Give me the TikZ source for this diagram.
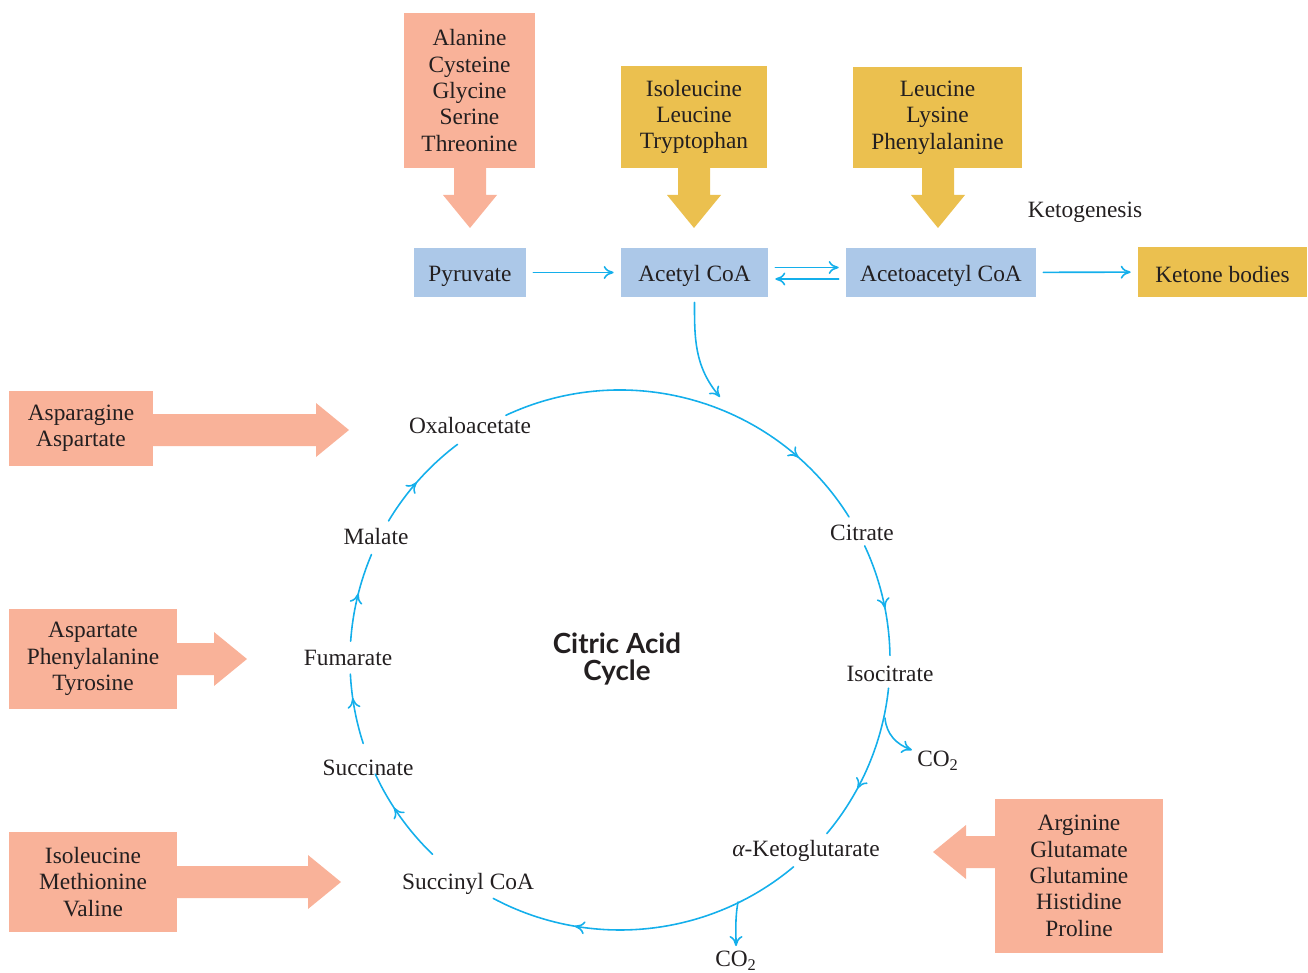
\documentclass[tikz,border=0pt]{standalone}
\usepackage{fontspec}
\setmainfont{Liberation Serif}
\newfontfamily\titlefont{Lato}
\usetikzlibrary{arrows.meta,decorations.markings}
\definecolor{cyc}{RGB}{20,175,235}
\definecolor{bluebox}{RGB}{172,200,232}
\definecolor{salmon}{RGB}{249,178,153}
\definecolor{gold}{RGB}{235,192,79}
\definecolor{ink}{RGB}{35,31,32}
\begin{document}
\begin{tikzpicture}[x=0.02cm,y=0.02cm,>={To[length=2mm,width=2.6mm]},
	font=\fontsize{13.3}{15}\selectfont, text=ink, line join=round, line cap=round,
	box/.style={fill=#1,align=center,inner sep=0pt,execute at begin node={\rule{0pt}{0.95em}}},
	lab/.style={inner sep=0pt},
	flow/.style={draw=cyc,color=cyc,line width=0.9pt,->,shorten <=0.14cm,shorten >=0.14cm},
	cycline/.style={draw=cyc,color=cyc,line width=0.9pt},
	midtip/.style={postaction={decorate},decoration={markings,mark=at position #1 with {\arrow{>}}}}]
	\useasboundingbox (0,0) rectangle (1308,-973);
	% fat arrows: start x/y, direction, length, colour
	\foreach \x/\y/\r/\l/\c in {470/-167/-90/61/salmon,694/-167/-90/61/gold,938/-167/-90/61/gold,
		152/-430/0/197/salmon,176/-659/0/71/salmon,176/-882/0/165/salmon,996/-852/180/63/salmon}
	\fill[\c,shift={(\x,\y)},rotate=\r] (0,-16)--(\l-33,-16)--(\l-33,-27)--(\l,0)--(\l-33,27)--(\l-33,16)--(0,16)--cycle;
	% amino acid boxes
	\node[box=salmon,minimum width=2.62cm,minimum height=3.10cm] (ala) at (469.5,-90.5) {Alanine\\Cysteine\\Glycine\\Serine\\Threonine};
	\node[box=gold,minimum width=2.92cm,minimum height=2.04cm] (ileu) at (694,-117) {Isoleucine\\Leucine\\Tryptophan};
	\node[box=gold,minimum width=3.38cm,minimum height=2.02cm] (leu) at (937.5,-117.5) {Leucine\\Lysine\\Phenylalanine};
	\node[box=salmon,minimum width=2.88cm,minimum height=1.50cm] (asn) at (81,-428.5) {Asparagine\\Aspartate};
	\node[box=salmon,minimum width=3.36cm,minimum height=2.00cm] (asp) at (93,-659) {Aspartate\\Phenylalanine\\Tyrosine};
	\node[box=salmon,minimum width=3.36cm,minimum height=2.00cm] (ile) at (93,-882) {Isoleucine\\Methionine\\Valine};
	\node[box=salmon,minimum width=3.36cm,minimum height=3.08cm] (arg) at (1079,-876) {Arginine\\Glutamate\\Glutamine\\Histidine\\Proline};
	% intermediates
	\node[box=bluebox,minimum width=2.24cm,minimum height=0.98cm] (pyr) at (470,-272.5) {Pyruvate};
	\node[box=bluebox,minimum width=2.94cm,minimum height=0.98cm] (acetyl) at (694.5,-272.5) {Acetyl CoA};
	\node[box=bluebox,minimum width=3.80cm,minimum height=0.98cm] (aceto) at (941,-272.5) {Acetoacetyl CoA};
	\node[box=gold,minimum width=3.38cm,minimum height=1.00cm] (ketone) at (1222.5,-272) {Ketone bodies};
	\node[lab] (ketogen) at (1085,-212) {Ketogenesis};
	\draw[flow] (pyr) -- (acetyl);
	\draw[flow] ([yshift=0.1cm]acetyl.east) -- ([yshift=0.1cm]aceto.west);
	\draw[flow] ([yshift=-0.13cm]aceto.west) -- ([yshift=-0.13cm]acetyl.east);
	\draw[flow] (aceto) -- (ketone);
	% citric acid cycle
	\coordinate (cc) at (620,-660);
	\coordinate (entry) at (720,-397);
	\coordinate (br1) at (885,-718);
	\coordinate (br2) at (738,-902);
	\node[lab] (oxalo) at (470,-426) {Oxaloacetate};
	\node[lab] (citrate) at (862,-533) {Citrate};
	\node[lab] (isocit) at (890,-674) {Isocitrate};
	\node[lab] (akg) at (806,-851) {{\itshape α}-Ketoglutarate};
	\node[lab] (succoa) at (468,-884) {Succinyl CoA};
	\node[lab] (succ) at (368,-768) {Succinate};
	\node[lab] (fum) at (348,-658) {Fumarate};
	\node[lab] (mal) at (376,-537) {Malate};
	\node[lab] (co2a) at (938,-761) {CO\textsubscript{2}};
	\node[lab] (co2b) at (736,-961) {CO\textsubscript{2}};
	\node[font=\titlefont\bfseries\fontsize{15.8}{15.8}\selectfont,align=center] (title) at (617,-659) {Citric Acid\\Cycle};
	\foreach \a/\b/\p in {115/32/0.8,25/1/0.58,-6/-40/0.66,-50/-118/0.73,226/205/0.61,198/183/0.66,176/157/0.54,149/127/0.46}
	\draw[cycline,midtip=\p] ([shift={(\a:270)}]cc) arc[start angle=\a,end angle=\b,radius=270];
	\draw[flow,shorten <=0.1cm,shorten >=0pt] (acetyl.south) to[out=-90,in=130] (entry);
	\draw[flow,shorten <=0pt,shorten >=0pt] (br1) to[out=-85,in=160] ([xshift=-0.1cm,yshift=0.22cm]co2a.west);
	\draw[flow,shorten <=0pt,shorten >=0pt] (br2) to[out=-100,in=90] ([yshift=0.1cm]co2b.north);
\end{tikzpicture}
\end{document}
